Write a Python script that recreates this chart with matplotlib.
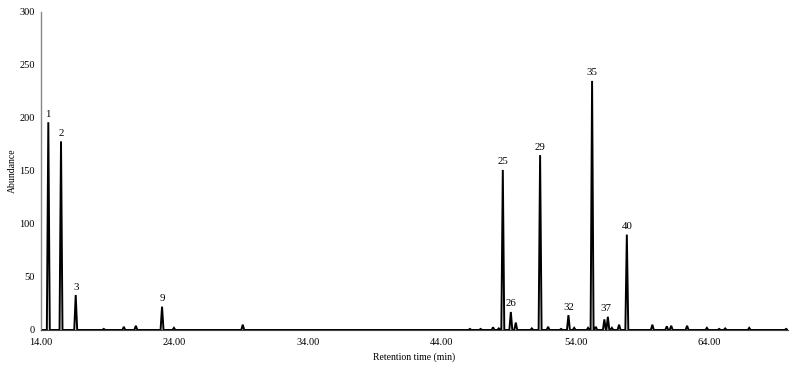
import matplotlib
matplotlib.use("Agg")
import matplotlib.pyplot as plt

# Peak retention times (min) and abundances
peak_rt = [14.55, 15.50, 16.60, 18.70, 20.20, 21.10, 23.06, 23.95, 29.10,
           46.10, 46.90, 47.83, 48.26, 48.56, 49.16, 49.53, 50.73, 51.35,
           51.95, 52.92, 53.47, 53.90, 54.94, 55.24, 55.52, 56.16, 56.42,
           56.72, 57.26, 57.84, 59.75, 60.83, 61.16, 62.35, 63.83, 64.75,
           65.20, 67.00, 69.76]
peak_h = [196, 178, 33, 1, 3, 4, 22, 2, 5,
          1, 1, 2.5, 1.5, 151, 17, 7, 1.5, 165,
          3, 1, 14, 2, 2, 235, 3, 10, 12.5,
          2, 5, 90, 5, 3.5, 4, 4, 2, 1,
          1.5, 2, 1]

# Labelled peaks: label, retention time, height of label anchor
label_txt = ["1", "2", "3", "9", "25", "26", "29", "32", "35", "37", "40"]
label_rt = [14.55, 15.50, 16.60, 23.06, 48.56, 49.16, 51.35, 53.47, 55.24, 56.30, 57.84]
label_h = [196, 178, 33, 22, 151, 17, 165, 14, 235, 12.5, 90]

x_ticks = [14, 24, 34, 44, 54, 64]
x_ticklabels = ["14.00", "24.00", "34.00", "44.00", "54.00", "64.00"]
y_ticks = [0, 50, 100, 150, 200, 250, 300]

plt.rcParams['font.family'] = ['Liberation Serif', 'DejaVu Serif']

fig = plt.figure(figsize=(7.97, 3.68), dpi=100)
ax = fig.add_axes([0.0514, 0.1033, 0.9373, 0.8641])

hw = 0.11
xs = [14.0]
ys = [0.0]
for rt, h in sorted(zip(peak_rt, peak_h)):
    xs += [rt - hw, rt, rt + hw]
    ys += [0.0, h, 0.0]
xs.append(69.9)
ys.append(0.0)
ax.plot(xs, ys, color="black", lw=1.4, solid_joinstyle="miter")

for t, rt, h in zip(label_txt, label_rt, label_h):
    ax.annotate(t, (rt, h), xytext=(0, 2.5), textcoords="offset points",
                ha="center", va="bottom", fontsize=7.8)

ax.set_xlim(14, 69.9)
ax.set_ylim(0, 300)
ax.set_xticks(x_ticks)
ax.set_xticklabels(x_ticklabels)
ax.set_yticks(y_ticks)
ax.tick_params(length=0, labelsize=7.5)
ax.tick_params(axis="x", pad=6)
ax.tick_params(axis="y", pad=4.5)
for s in ["top", "right"]:
    ax.spines[s].set_visible(False)
ax.spines["left"].set_color("#888888")
ax.spines["left"].set_linewidth(1.0)
ax.spines["bottom"].set_color("#444444")
ax.spines["bottom"].set_linewidth(0.8)
ax.set_xlabel("Retention time (min)", fontsize=7)
ax.set_ylabel("Abundance", fontsize=7)
ax.xaxis.set_label_coords(0.5, -0.07)
ax.yaxis.set_label_coords(-0.032, 0.5)

fig.savefig("out.png", dpi=100)
